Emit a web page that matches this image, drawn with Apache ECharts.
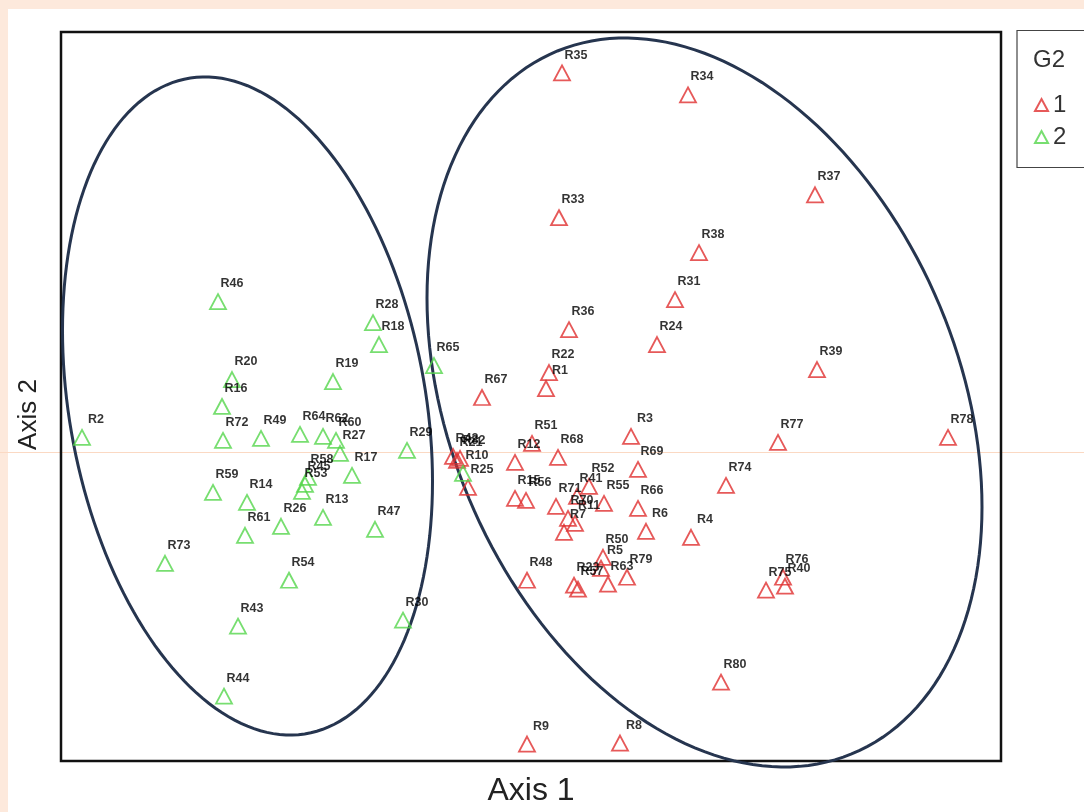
<!DOCTYPE html>
<html>
<head>
<meta charset="utf-8">
<script src="https://cdn.jsdelivr.net/npm/echarts@6/dist/echarts.min.js"></script>
<style>
html,body{margin:0;padding:0;background:#fff;}
#chart{width:1084px;height:812px;}
</style>
</head>
<body>
<div id="chart"></div>
<script>
// Group 1 (red)
const redNames = ['R35','R34','R37','R33','R38','R31','R36','R24','R22','R1','R67','R39','R3','R78','R77','R51','R12','R68','R69','R42','R21','R32','R25','R15','R56','R74','R52','R41','R71','R55','R66','R70','R11','R7','R6','R4','R50','R5','R79','R63','R23','R57','R48','R76','R40','R75','R80','R9','R8'];
const redX = [0.31,1.57,2.84,0.28,1.68,1.44,0.38,1.26,0.18,0.15,-0.49,2.86,1.00,4.17,2.47,0.01,-0.16,0.27,1.07,-0.78,-0.74,-0.71,-0.63,-0.16,-0.05,1.95,0.58,0.46,0.25,0.73,1.07,0.37,0.44,0.33,1.15,1.60,0.72,0.70,0.96,0.77,0.43,0.47,-0.04,2.52,2.54,2.35,1.90,-0.04,0.89];
const redY = [3.24,3.02,2.02,1.79,1.44,0.97,0.67,0.52,0.24,0.08,-0.01,0.27,-0.40,-0.41,-0.46,-0.47,-0.66,-0.61,-0.73,-0.60,-0.64,-0.62,-0.91,-1.02,-1.04,-0.89,-0.90,-1.00,-1.10,-1.07,-1.12,-1.22,-1.27,-1.36,-1.35,-1.41,-1.61,-1.72,-1.81,-1.88,-1.89,-1.93,-1.84,-1.81,-1.90,-1.94,-2.86,-3.48,-3.47];

// Group 2 (green)
const greenNames = ['R2','R46','R20','R16','R72','R49','R28','R18','R19','R65','R64','R62','R60','R27','R17','R29','R58','R45','R53','R59','R14','R13','R26','R61','R47','R73','R54','R43','R30','R44','R10'];
const greenX = [-4.49,-3.13,-2.99,-3.09,-3.08,-2.70,-1.58,-1.52,-1.98,-0.97,-2.31,-2.08,-1.95,-1.91,-1.79,-1.24,-2.23,-2.26,-2.29,-3.18,-2.84,-2.08,-2.50,-2.86,-1.56,-3.66,-2.42,-2.93,-1.28,-3.07,-0.68];
const greenY = [-0.41,0.95,0.17,-0.10,-0.44,-0.42,0.74,0.52,0.15,0.31,-0.38,-0.40,-0.44,-0.57,-0.79,-0.54,-0.81,-0.88,-0.95,-0.96,-1.06,-1.21,-1.30,-1.39,-1.33,-1.67,-1.84,-2.30,-2.24,-3.00,-0.77];

// Group ellipses: [centerX, centerY, varX, varY, covXY]
const ellipseLeft = [-2.835, -0.095, 3.4225, 10.857, -1.4004];
const ellipseRight = [1.735, -0.06, 7.7006, 13.3225, -2.9018];

const groupNames = ['1','2'];
const axisX = {min:-4.7, max:4.7, name:'Axis 1'};
const axisY = {min:-3.65, max:3.65, name:'Axis 2'};

const RED = '#e0302f';
const GREEN = '#55d64c';
const FONT = 'Liberation Sans, Arial, sans-serif';

function pts(names, xs, ys){
  return names.map((n,i)=>({name:n, value:[xs[i], ys[i]]}));
}

const chart = echarts.init(document.getElementById('chart'), null, {renderer:'canvas'});

const scatterCommon = {
  type:'scatter',
  symbol:'triangle',
  symbolSize:[16,15],
  label:{
    show:true, position:'top', distance:3, offset:[14,0],
    formatter:'{b}', color:'#000', fontSize:12.5, fontWeight:'bold',
    fontFamily:FONT
  },
  emphasis:{disabled:true},
  z:3
};

const option = {
  backgroundColor:'#ffffff',
  animation:false,
  graphic:[
    {type:'rect', left:0, top:0, shape:{width:1084, height:9}, style:{fill:'#fde9dc'}, silent:true, z:-10},
    {type:'rect', left:0, top:0, shape:{width:8, height:812}, style:{fill:'#fde9dc'}, silent:true, z:-10},
    {type:'line', shape:{x1:0, y1:452.5, x2:1084, y2:452.5}, style:{stroke:'#fbd9c3', lineWidth:1}, silent:true, z:-5},
    {type:'rect', shape:{x:1017, y:30.5, width:90, height:137}, style:{fill:'#fff', stroke:'#444', lineWidth:1.2}, silent:true, z:-1},
    {type:'text', x:1033, y:48, style:{text:'G2', fontSize:24, fill:'#333', fontFamily:FONT}, silent:true, z:5}
  ],
  grid:{left:61, top:32, width:940, height:730, show:true, borderColor:'#111', borderWidth:2.5, backgroundColor:'transparent'},
  xAxis:{
    type:'value', min:axisX.min, max:axisX.max,
    name:axisX.name, nameLocation:'middle', nameGap:14,
    nameTextStyle:{fontSize:32, color:'#222', fontFamily:FONT},
    axisLine:{show:false}, axisTick:{show:false}, axisLabel:{show:false}, splitLine:{show:false}
  },
  yAxis:{
    type:'value', min:axisY.min, max:axisY.max,
    name:axisY.name, nameLocation:'middle', nameGap:19, nameRotate:90,
    nameTextStyle:{fontSize:26, color:'#222', fontFamily:FONT, padding:[0,36,0,0]},
    axisLine:{show:false}, axisTick:{show:false}, axisLabel:{show:false}, splitLine:{show:false}
  },
  legend:{
    data:groupNames, orient:'vertical', left:1029, top:88, itemGap:8,
    itemWidth:13, itemHeight:12, icon:'triangle',
    textStyle:{fontSize:24, color:'#333', fontFamily:FONT},
    selectedMode:false
  },
  series:[
    {
      type:'custom', name:'ellipses', silent:true, clip:false, z:2,
      data:[ellipseLeft, ellipseRight],
      encode:{x:0, y:1},
      renderItem:function(params, api){
        const cx = api.value(0), cy = api.value(1);
        const sxx = api.value(2), syy = api.value(3), sxy = api.value(4);
        const l11 = Math.sqrt(sxx), l21 = sxy / l11, l22 = Math.sqrt(syy - l21*l21);
        const points = [];
        for(let k=0;k<=180;k++){
          const t = k/180*Math.PI*2;
          points.push(api.coord([cx + l11*Math.cos(t), cy + l21*Math.cos(t) + l22*Math.sin(t)]));
        }
        return {type:'polygon', shape:{points:points}, style:{fill:'none', stroke:'#26354f', lineWidth:3}};
      }
    },
    Object.assign({}, scatterCommon, {
      name:'1', data:pts(redNames, redX, redY),
      itemStyle:{color:'rgba(255,255,255,0)', borderColor:RED, borderWidth:1.8}
    }),
    Object.assign({}, scatterCommon, {
      name:'2', data:pts(greenNames, greenX, greenY),
      itemStyle:{color:'rgba(255,255,255,0)', borderColor:GREEN, borderWidth:1.8}
    })
  ]
};
chart.setOption(option);
</script>
</body>
</html>
